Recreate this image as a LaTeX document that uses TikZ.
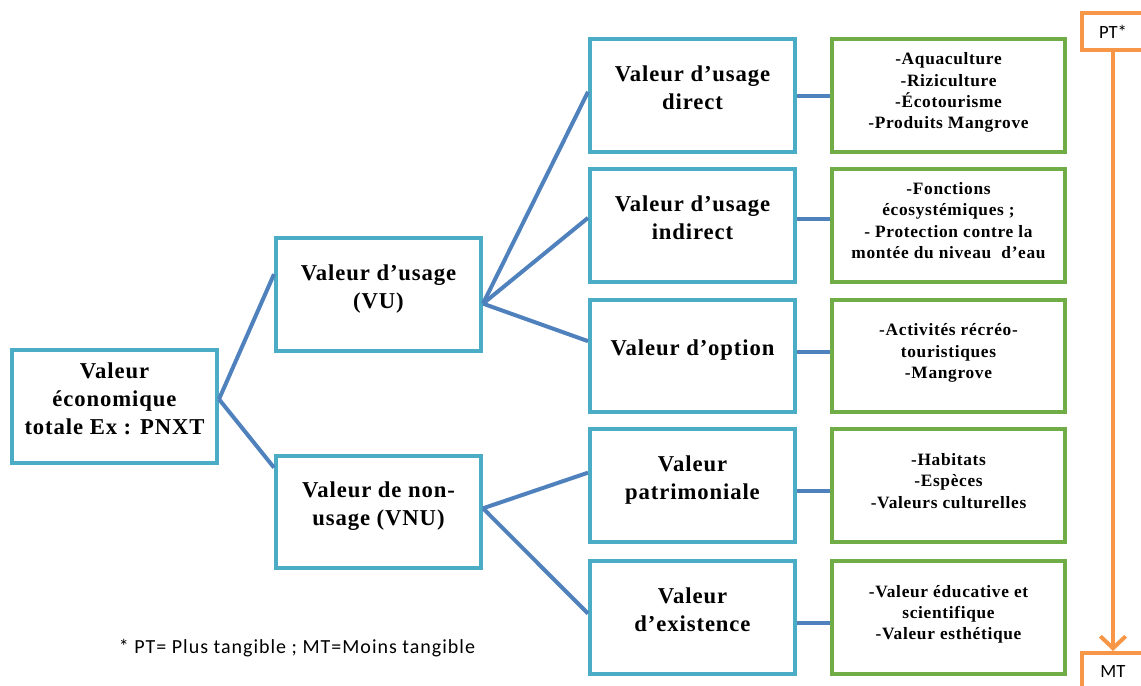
\documentclass[tikz,border=0pt]{standalone}
\usepackage{fontspec}
\setmainfont{Liberation Serif}
\newfontfamily\notefont{Carlito}
\usepackage{xcolor}
\usepackage{tikz}
\usetikzlibrary{arrows.meta,positioning}

\definecolor{valblue}{RGB}{75,172,198}
\definecolor{usegreen}{RGB}{112,173,71}
\definecolor{linkblue}{RGB}{79,129,189}
\definecolor{tagorange}{RGB}{247,150,70}
\newcommand{\boxpad}[1]{\rule[-#1]{0pt}{#1}}

\begin{document}
\begin{tikzpicture}[
    x=0.75pt, y=-0.75pt,
    valbox/.style={rectangle, draw=valblue, line width=3pt, minimum width=153.75pt, minimum height=84.5pt, align=center, font=\bfseries\fontsize{17}{21}\selectfont\addfontfeatures{LetterSpace=4}, execute at end node=\boxpad{12pt}},
    usebox/.style={rectangle, draw=usegreen, line width=3pt, minimum width=174.75pt, minimum height=84.5pt, align=center, font=\bfseries\fontsize{13}{16}\selectfont\addfontfeatures{LetterSpace=4}, execute at end node=\boxpad{7pt}},
    tagbox/.style={rectangle, draw=tagorange, line width=3pt, fill=white, minimum width=46.5pt, minimum height=27.75pt, font=\notefont\fontsize{14}{16}\selectfont},
    link/.style={draw=linkblue, line width=3pt},
    arrow/.style={-{Straight Barb[length=9pt,width=19pt]}, draw=tagorange, line width=3pt}
]
\useasboundingbox (0,0) rectangle (1141,685);

% Total value
\node[valbox] (root) at (114.5,406.5) {Valeur\\économique\\totale Ex : PNXT};

% Use / non-use
\node[valbox, right=41.25pt of root, yshift=84pt] (vu) {Valeur d’usage\\(VU)};
\node[valbox, right=41.25pt of root, yshift=-79.1pt] (vnu) {Valeur de non-\\usage (VNU)};

% Value types
\node[valbox, right=78.75pt of vu, yshift=149.25pt] (direct) {Valeur d’usage\\direct};
\node[valbox, below=9.75pt of direct] (indirect) {Valeur d’usage\\indirect};
\node[valbox, below=10.5pt of indirect] (option) {Valeur d’option};
\node[valbox, below=9.75pt of option] (patri) {Valeur\\patrimoniale};
\node[valbox, below=11.25pt of patri] (exist) {Valeur\\d’existence};

% Examples
\node[usebox, right=24.75pt of direct] (d_use) {-Aquaculture\\-Riziculture\\-Écotourisme\\-Produits Mangrove};
\node[usebox, right=24.75pt of indirect] (i_use) {-Fonctions\\écosystémiques ;\\- Protection contre la\\montée du niveau\ \ d’eau};
\node[usebox, right=24.75pt of option] (o_use) {-Activités récréo-\\touristiques\\-Mangrove};
\node[usebox, right=24.75pt of patri] (p_use) {-Habitats\\-Espèces\\-Valeurs culturelles};
\node[usebox, right=24.75pt of exist] (e_use) {-Valeur éducative et\\scientifique\\-Valeur esthétique};

% Tangibility scale
\node[tagbox] (pt) at (1113,31.5) {PT*};
\node[tagbox] (mt) at (1113,671.5) {MT};
\node[font=\notefont\fontsize{15}{17}\selectfont\addfontfeatures{LetterSpace=5}] (note) at (297,648) {* PT= Plus tangible ; MT=Moins tangible};

% Links
\draw[link] (root.4) -- (vu.169);
\draw[link] (root.4) -- (vnu.157);
\draw[link] (vu.-5) -- (direct.178);
\draw[link] (vu.-5) -- (indirect.176);
\draw[link] (vu.-5) -- (option.172);
\draw[link] (vnu.2) -- (patri.173);
\draw[link] (vnu.2) -- (exist.178);
\draw[link] (direct.east) -- (d_use.west);
\draw[link] ([yshift=5pt]indirect.east) -- ([yshift=5pt]i_use.west);
\draw[link] ([yshift=3pt]option.east) -- ([yshift=3pt]o_use.west);
\draw[link] ([yshift=-4pt]patri.east) -- ([yshift=-4pt]p_use.west);
\draw[link] ([yshift=-4pt]exist.east) -- ([yshift=-4pt]e_use.west);
\draw[arrow] (pt) -- (mt);

\end{tikzpicture}
\end{document}
